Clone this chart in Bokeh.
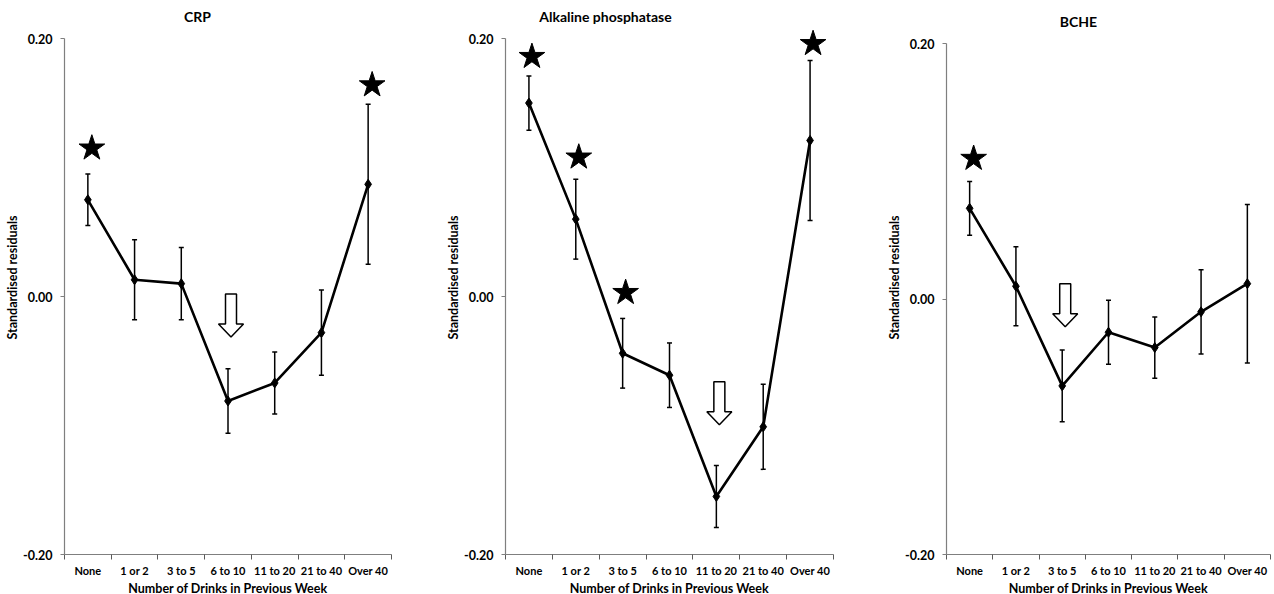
from bokeh.plotting import figure
from bokeh.layouts import row
from bokeh.models import Range1d, FixedTicker, NumeralTickFormatter, Whisker, ColumnDataSource, TeeHead
from bokeh.core.properties import value
from bokeh.embed import file_html
from bokeh.resources import INLINE

categories = ["None", "1 or 2", "3 to 5", "6 to 10", "11 to 20", "21 to 40", "Over 40"]
y_ticks = [-0.20, 0.00, 0.20]
x_title = "Number of Drinks in Previous Week"
y_title = "Standardised residuals"

crp_mean = [0.075, 0.013, 0.010, -0.081, -0.067, -0.028, 0.087]
crp_err = [0.020, 0.031, 0.028, 0.025, 0.024, 0.033, 0.062]
crp_star_cats = ["None", "Over 40"]
crp_star_y = [0.115, 0.164]
crp_arrow_cat = "6 to 10"
crp_arrow_top = 0.002

alp_mean = [0.150, 0.060, -0.044, -0.061, -0.155, -0.101, 0.121]
alp_err = [0.021, 0.031, 0.027, 0.025, 0.024, 0.033, 0.062]
alp_star_cats = ["None", "1 or 2", "3 to 5", "Over 40"]
alp_star_y = [0.186, 0.108, 0.003, 0.196]
alp_arrow_cat = "11 to 20"
alp_arrow_top = -0.066

bche_mean = [0.071, 0.010, -0.068, -0.026, -0.038, -0.010, 0.012]
bche_err = [0.021, 0.031, 0.028, 0.025, 0.024, 0.033, 0.062]
bche_star_cats = ["None"]
bche_star_y = [0.110]
bche_arrow_cat = "3 to 5"
bche_arrow_top = 0.012

FONT = "Lato"
FRAME_H = 554


def panel(title, mean, err, star_cats, star_y, arrow_cat, arrow_top,
          left, frame_w, right, y_top, title_px, title_py, star_shift):
    p = figure(frame_width=frame_w, frame_height=FRAME_H,
               min_border_left=left, min_border_right=right,
               min_border_top=0, min_border_bottom=40,
               x_range=Range1d(0, len(categories)), y_range=Range1d(-0.2, y_top),
               output_backend="svg", toolbar_location=None, tools="")
    p.outline_line_color = None
    p.grid.visible = False
    p.background_fill_color = "white"
    p.border_fill_color = "white"

    px_x = frame_w / len(categories)
    px_y = FRAME_H / (y_top + 0.2)

    xs = [i + 0.5 for i in range(len(categories))]
    src = ColumnDataSource(dict(x=xs, y=mean,
                                upper=[m + e for m, e in zip(mean, err)],
                                lower=[m - e for m, e in zip(mean, err)]))

    # x axis
    xa = p.xaxis[0]
    xa.ticker = FixedTicker(ticks=xs, minor_ticks=list(range(len(categories) + 1)))
    xa.major_label_overrides = {x: c for x, c in zip(xs, categories)}
    xa.major_tick_out = 0
    xa.major_tick_in = 0
    xa.minor_tick_out = 5
    xa.minor_tick_in = 0
    xa.minor_tick_line_color = "#595959"
    xa.axis_line_color = "#7f7f7f"
    xa.axis_line_width = 1.2
    xa.major_label_text_font = FONT
    xa.major_label_text_font_style = "bold"
    xa.major_label_text_font_size = "11px"
    xa.major_label_text_color = "black"
    xa.major_label_standoff = 4
    xa.axis_label = x_title
    xa.axis_label_text_font = FONT
    xa.axis_label_text_font_style = "bold"
    xa.axis_label_text_font_size = "12.5px"
    xa.axis_label_text_color = "black"
    xa.axis_label_standoff = 1

    # y axis
    ya = p.yaxis[0]
    ya.ticker = FixedTicker(ticks=y_ticks)
    ya.formatter = NumeralTickFormatter(format="0.00")
    ya.bounds = (-0.2, 0.2)
    ya.major_tick_out = 4
    ya.major_tick_in = 0
    ya.minor_tick_out = 0
    ya.minor_tick_in = 0
    ya.major_tick_line_color = "#7f7f7f"
    ya.axis_line_color = "#7f7f7f"
    ya.axis_line_width = 1.2
    ya.major_label_text_font = FONT
    ya.major_label_text_font_style = "bold"
    ya.major_label_text_font_size = "12.5px"
    ya.major_label_text_color = "black"
    ya.major_label_standoff = 8
    ya.axis_label = y_title
    ya.axis_label_text_font = FONT
    ya.axis_label_text_font_style = "bold"
    ya.axis_label_text_font_size = "12.5px"
    ya.axis_label_text_color = "black"
    ya.axis_label_standoff = 0

    # error bars
    w = Whisker(source=src, base="x", upper="upper", lower="lower",
                line_color="black", line_width=1.5,
                upper_head=TeeHead(size=5, line_color="black", line_width=1.5),
                lower_head=TeeHead(size=5, line_color="black", line_width=1.5))
    p.add_layout(w)

    p.line("x", "y", source=src, line_color="black", line_width=2.6)
    p.scatter("x", "y", source=src, marker="diamond", size=10,
              fill_color="black", line_color="black")

    # significance stars
    sx = [categories.index(c) + 0.5 + star_shift / px_x for c in star_cats]
    p.scatter(sx, star_y, marker="star", size=27, fill_color="black", line_color="black")

    # hollow down arrow
    cx = categories.index(arrow_cat) + 0.5 + 3 / px_x
    shape = [(-5.5, 0), (5.5, 0), (5.5, 30), (12.5, 30), (0, 43), (-12.5, 30), (-5.5, 30)]
    ax = [cx + dx / px_x for dx, dy in shape]
    ay = [arrow_top - dy / px_y for dx, dy in shape]
    p.patch(ax, ay, fill_color="white", line_color="black", line_width=1.5)

    # title
    p.text([(title_px - left) / px_x], [y_top - title_py / px_y], text=[title],
           text_font=value(FONT), text_font_style="bold", text_font_size="14px",
           text_color="black", text_align="center", text_baseline="middle")
    return p


p1 = panel("CRP", crp_mean, crp_err, crp_star_cats, crp_star_y, crp_arrow_cat, crp_arrow_top,
           64, 327, 49, 0.2295, 197, 15.5, 4)
p2 = panel("Alkaline phosphatase", alp_mean, alp_err, alp_star_cats, alp_star_y, alp_arrow_cat,
           alp_arrow_top, 65, 328, 50, 0.2295, 165, 16, 3)
p3 = panel("BCHE", bche_mean, bche_err, bche_star_cats, bche_star_y, bche_arrow_cat, bche_arrow_top,
           63, 324, 4, 0.2337, 195, 21, 4)

layout = row(p1, p2, p3, spacing=0)
open("out.html", "w").write(file_html(layout, INLINE))
